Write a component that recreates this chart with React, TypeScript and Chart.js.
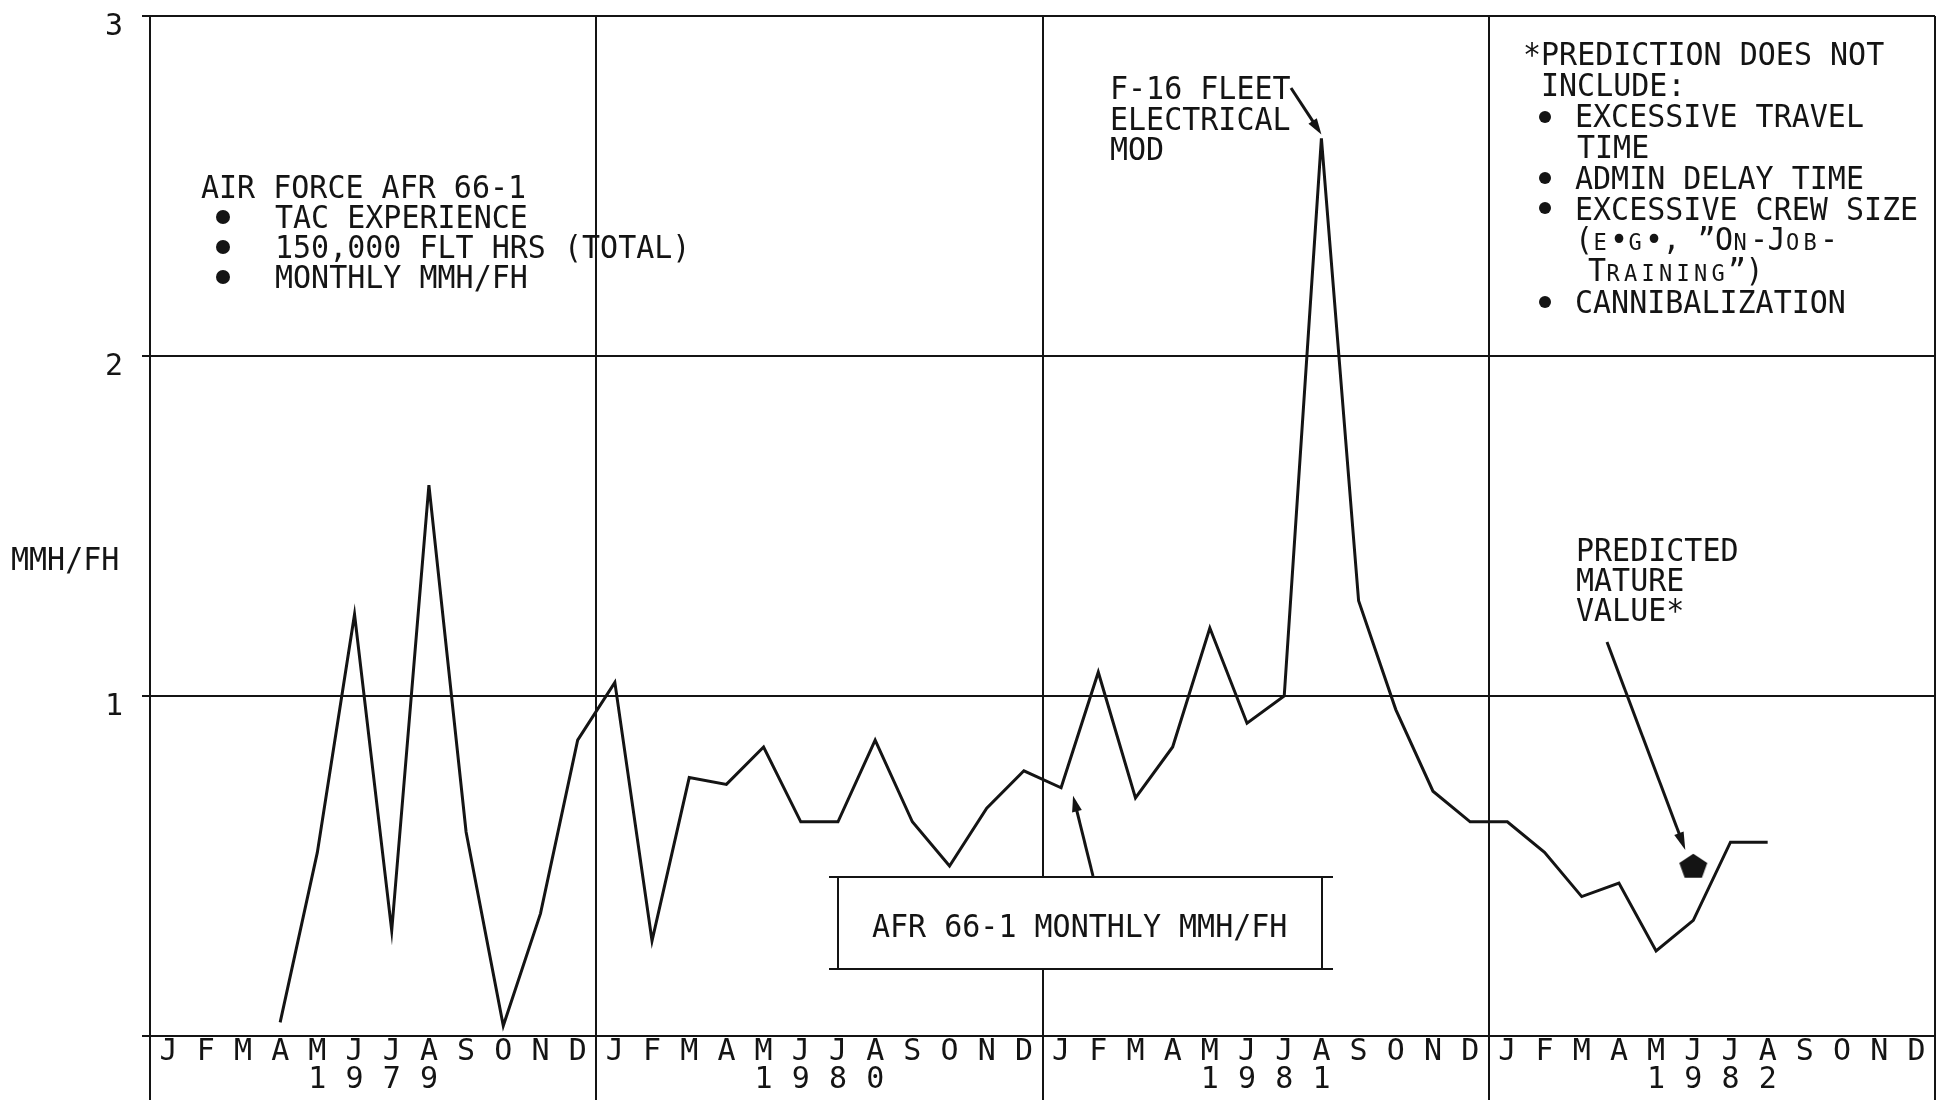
import React, { useEffect, useRef } from 'react';
import { Chart, registerables } from 'chart.js';

Chart.register(...registerables);

// ---------- data ----------
const MONTHS = ['J', 'F', 'M', 'A', 'M', 'J', 'J', 'A', 'S', 'O', 'N', 'D'];
const YEARS = ['1979', '1980', '1981', '1982'];
const MMH_1979: (number | null)[] = [null, null, null, 0.04, 0.54, 1.24, 0.31, 1.62, 0.6, 0.03, 0.36, 0.87];
const MMH_1980: (number | null)[] = [1.04, 0.28, 0.76, 0.74, 0.85, 0.63, 0.63, 0.87, 0.63, 0.5, 0.67, 0.78];
const MMH_1981: (number | null)[] = [0.73, 1.07, 0.7, 0.85, 1.2, 0.92, 1.0, 2.64, 1.28, 0.96, 0.72, 0.63];
const MMH_1982: (number | null)[] = [0.63, 0.54, 0.41, 0.45, 0.25, 0.34, 0.57, 0.57, null, null, null, null];
const PREDICTED_1982: (number | null)[] = [null, null, null, null, null, 0.5, null, null, null, null, null, null];
const NO_DATA: (number | null)[] = MONTHS.map(() => null);
const Y_MIN = 0;
const Y_MAX = 3;
const Y_STEP = 1;

// annotation texts
const NOTE_LEFT_TITLE = 'AIR FORCE AFR 66-1';
const NOTE_LEFT_ITEMS = ['TAC EXPERIENCE', '150,000 FLT HRS (TOTAL)', 'MONTHLY MMH/FH'];
const NOTE_PEAK = ['F-16 FLEET', 'ELECTRICAL', 'MOD'];
const NOTE_PRED = ['PREDICTED', 'MATURE', 'VALUE*'];
const NOTE_BOX = 'AFR 66-1 MONTHLY MMH/FH';
const Y_TITLE = 'MMH/FH';

const FONT = '"DejaVu Sans Mono", monospace';
const INK = '#141414';

const yearDigitStart = 4;
const labels = YEARS.flatMap((yr) =>
  MONTHS.map((m, i) => {
    const d = i - yearDigitStart;
    return d >= 0 && d < yr.length ? [m, yr[d]] : m;
  })
);
const mmh = [...MMH_1979, ...MMH_1980, ...MMH_1981, ...MMH_1982];
const predicted = [...NO_DATA, ...NO_DATA, ...NO_DATA, ...PREDICTED_1982];

function makePentagon(): HTMLCanvasElement {
  const c = document.createElement('canvas');
  c.width = 32;
  c.height = 30;
  const g = c.getContext('2d')!;
  g.fillStyle = INK;
  g.beginPath();
  const cx = 16, cy = 16, r = 14;
  for (let k = 0; k < 5; k++) {
    const a = -Math.PI / 2 + (k * 2 * Math.PI) / 5;
    const px = cx + r * Math.cos(a) * 1.05;
    const py = cy + r * Math.sin(a) * 0.95;
    if (k === 0) g.moveTo(px, py);
    else g.lineTo(px, py);
  }
  g.closePath();
  g.fill();
  return c;
}

function txt(ctx: CanvasRenderingContext2D, s: string, x: number, y: number, size = 30) {
  ctx.save();
  ctx.translate(x, y);
  ctx.scale(1, 1.08);
  ctx.font = `${size}px ${FONT}`;
  ctx.fillStyle = INK;
  ctx.textAlign = 'left';
  ctx.textBaseline = 'alphabetic';
  ctx.fillText(s, 0, 0);
  ctx.restore();
}

// small caps: lowercase letters drawn as smaller capitals, monospace advance
function smallCaps(ctx: CanvasRenderingContext2D, s: string, x: number, y: number, adv = 17.5) {
  let cx = x;
  for (const ch of s) {
    const low = ch !== ch.toUpperCase();
    ctx.save();
    ctx.translate(cx, y);
    ctx.scale(1, 1.08);
    ctx.font = `${low ? 22 : 30}px ${FONT}`;
    ctx.fillStyle = INK;
    ctx.textBaseline = 'alphabetic';
    ctx.fillText(low ? ch.toUpperCase() : ch, low ? 1 : 0, 0);
    ctx.restore();
    cx += adv;
  }
}

function bullet(ctx: CanvasRenderingContext2D, x: number, y: number, r = 7) {
  ctx.beginPath();
  ctx.arc(x, y, r, 0, Math.PI * 2);
  ctx.fillStyle = INK;
  ctx.fill();
}

function arrow(ctx: CanvasRenderingContext2D, x1: number, y1: number, x2: number, y2: number, head = 18, w = 5) {
  const a = Math.atan2(y2 - y1, x2 - x1);
  ctx.strokeStyle = INK;
  ctx.lineWidth = 3;
  ctx.beginPath();
  ctx.moveTo(x1, y1);
  ctx.lineTo(x2 - Math.cos(a) * head * 0.8, y2 - Math.sin(a) * head * 0.8);
  ctx.stroke();
  ctx.beginPath();
  ctx.moveTo(x2, y2);
  ctx.lineTo(x2 - Math.cos(a) * head - Math.sin(a) * w, y2 - Math.sin(a) * head + Math.cos(a) * w);
  ctx.lineTo(x2 - Math.cos(a) * head + Math.sin(a) * w, y2 - Math.sin(a) * head - Math.cos(a) * w);
  ctx.closePath();
  ctx.fillStyle = INK;
  ctx.fill();
}

const annotations = {
  id: 'annotations',
  afterDraw(chart: any) {
    const ctx: CanvasRenderingContext2D = chart.ctx;
    const xs = chart.scales.x;
    const ys = chart.scales.y;
    ctx.save();

    // year separators below the axis
    const w = (xs.right - xs.left) / mmh.length;
    ctx.strokeStyle = INK;
    ctx.lineWidth = 2;
    for (let i = 0; i <= mmh.length; i += 12) {
      const px = Math.round(xs.left + i * w);
      ctx.beginPath();
      ctx.moveTo(px, ys.bottom);
      ctx.lineTo(px, chart.height);
      ctx.stroke();
    }

    // y title
    txt(ctx, Y_TITLE, 11, 570);

    // left note
    txt(ctx, NOTE_LEFT_TITLE, 201, 198);
    NOTE_LEFT_ITEMS.forEach((s, k) => {
      bullet(ctx, 223, 217 + k * 30);
      txt(ctx, s, 275, 228 + k * 30);
    });

    // right note
    txt(ctx, '*PREDICTION DOES NOT', 1523, 65);
    txt(ctx, 'INCLUDE:', 1541, 96);
    bullet(ctx, 1545, 117, 6);
    txt(ctx, 'EXCESSIVE TRAVEL', 1575, 127);
    txt(ctx, 'TIME', 1577, 158);
    bullet(ctx, 1545, 178, 6);
    txt(ctx, 'ADMIN DELAY TIME', 1575, 189);
    bullet(ctx, 1545, 208, 6);
    txt(ctx, 'EXCESSIVE CREW SIZE', 1575, 220);
    smallCaps(ctx, '(e\u2022g\u2022, \u201DOn-Job-', 1575, 250);
    smallCaps(ctx, 'Training\u201D)', 1588, 281);
    bullet(ctx, 1545, 302, 6);
    txt(ctx, 'CANNIBALIZATION', 1575, 313);

    // peak note + arrow
    NOTE_PEAK.forEach((s, k) => txt(ctx, s, 1110, 99 + k * 30.5));
    const peakIdx = mmh.indexOf(Math.max(...(mmh.filter((v) => v !== null) as number[])));
    const pkx = xs.getPixelForValue(peakIdx);
    const pky = ys.getPixelForValue(mmh[peakIdx] as number);
    arrow(ctx, 1291, 88, pkx, pky - 4, 16, 5);

    // predicted note + arrow
    NOTE_PRED.forEach((s, k) => txt(ctx, s, 1576, 561 + k * 30));
    const pIdx = predicted.findIndex((v) => v !== null);
    const mx = xs.getPixelForValue(pIdx);
    const my = ys.getPixelForValue(predicted[pIdx] as number);
    arrow(ctx, 1607, 642, mx - 8, my - 16, 18, 5);

    // boxed label
    ctx.fillStyle = '#ffffff';
    ctx.fillRect(838, 877, 1322 - 838, 969 - 877);
    ctx.strokeStyle = INK;
    ctx.lineWidth = 2;
    ctx.beginPath();
    ctx.moveTo(829, 877); ctx.lineTo(1333, 877);
    ctx.moveTo(829, 969); ctx.lineTo(1333, 969);
    ctx.moveTo(838, 877); ctx.lineTo(838, 969);
    ctx.moveTo(1322, 877); ctx.lineTo(1322, 969);
    ctx.stroke();
    txt(ctx, NOTE_BOX, 872, 937);
    const jIdx = 24;
    const jx = xs.getPixelForValue(jIdx);
    const jy = ys.getPixelForValue(mmh[jIdx] as number);
    arrow(ctx, 1093, 876, jx + 12, jy + 8, 16, 5);

    ctx.restore();
  },
};

export default function App() {
  const ref = useRef<HTMLCanvasElement | null>(null);
  useEffect(() => {
    if (!ref.current) return;
    const chart = new Chart(ref.current, {
      type: 'line',
      data: {
        labels,
        datasets: [
          {
            label: 'AFR 66-1 MONTHLY MMH/FH',
            data: mmh,
            borderColor: INK,
            borderWidth: 3,
            pointRadius: 0,
            tension: 0,
            fill: false,
            spanGaps: false,
          },
          {
            label: 'PREDICTED MATURE VALUE',
            data: predicted,
            showLine: false,
            pointStyle: makePentagon(),
            pointRadius: 14,
            borderColor: INK,
            backgroundColor: INK,
          },
        ],
      },
      options: {
        animation: false,
        responsive: true,
        maintainAspectRatio: false,
        layout: { padding: { left: 0, right: 14, top: 16, bottom: 0 } },
        plugins: { legend: { display: false }, tooltip: { enabled: false }, title: { display: false } },
        scales: {
          x: {
            type: 'category',
            offset: true,
            grid: {
              offset: true,
              drawTicks: false,
              lineWidth: 2,
              color: (c: any) => (c.index === undefined || c.index % 12 === 0 ? INK : 'rgba(0,0,0,0)'),
            },
            border: { display: true, color: INK, width: 2 },
            ticks: {
              autoSkip: false,
              maxRotation: 0,
              minRotation: 0,
              padding: 2,
              color: INK,
              font: { family: FONT, size: 30, lineHeight: '28px' as any },
            },
            afterFit: (s: any) => {
              s.height = 64;
              s.paddingLeft = 0;
              s.paddingRight = 0;
            },
          },
          y: {
            min: Y_MIN,
            max: Y_MAX,
            ticks: {
              stepSize: Y_STEP,
              padding: 19,
              labelOffset: 11,
              color: INK,
              font: { family: FONT, size: 30 },
              callback: (v: any) => (v === Y_MIN ? '' : String(v)),
            },
            grid: { color: INK, lineWidth: 2, tickLength: 8, drawTicks: true },
            border: { display: true, color: INK, width: 2 },
            afterFit: (s: any) => {
              s.width = 150;
              s.paddingTop = 0;
              s.paddingBottom = 0;
            },
          },
        },
      },
      plugins: [annotations],
    });
    return () => chart.destroy();
  }, []);
  return (
    <div style={{ position: 'absolute', left: 0, top: 0, width: 1950, height: 1100, background: '#fff' }}>
      <canvas ref={ref} />
    </div>
  );
}
